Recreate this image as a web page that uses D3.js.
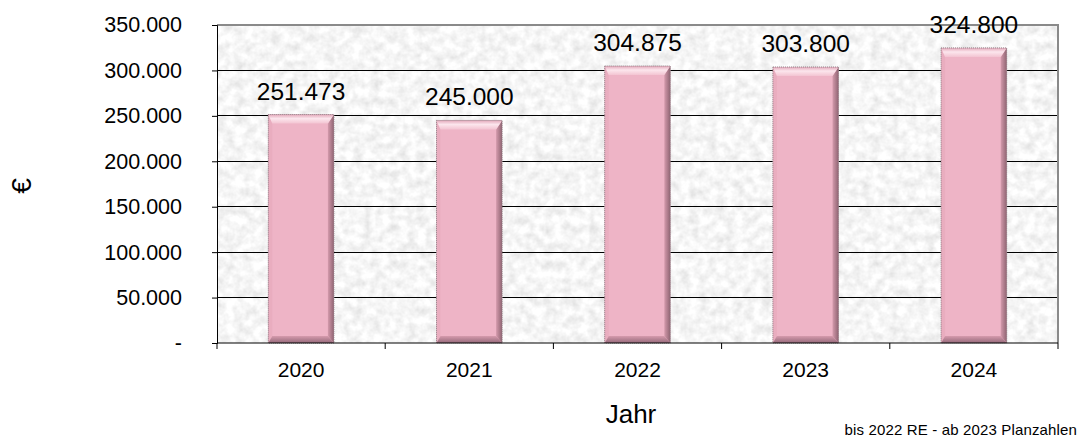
<!DOCTYPE html>
<html>
<head>
<meta charset="utf-8">
<script src="https://cdn.jsdelivr.net/npm/d3@7"></script>
<style>
  html, body { margin: 0; padding: 0; background: #fff; }
  svg { display: block; font-family: Arial, "Liberation Sans", sans-serif; }
</style>
</head>
<body>
<svg id="chart" width="1078" height="437"></svg>
<script>
// Jahreswerte in Euro
const years = ["2020", "2021", "2022", "2023", "2024"];
const amounts = [251473, 245000, 304875, 303800, 324800];
const yTicks = [0, 50000, 100000, 150000, 200000, 250000, 300000, 350000];
const yTitle = "€";
const xTitle = "Jahr";
const note = "bis 2022 RE - ab 2023 Planzahlen";

const W = 1078, H = 437;
const margin = { top: 25, right: 20, bottom: 94, left: 217 };
const plotW = W - margin.left - margin.right;
const plotH = H - margin.top - margin.bottom;

const de = d3.formatLocale({ decimal: ",", thousands: ".", grouping: [3], currency: ["", " €"] });
const fmt = de.format(",.0f");
const tickFmt = v => v === 0 ? "-" : fmt(v);

const svg = d3.select("#chart");
const defs = svg.append("defs");

// fine stone-like grey texture for the plot background
const tex = defs.append("filter").attr("id", "stone")
  .attr("x", 0).attr("y", 0).attr("width", "100%").attr("height", "100%");
tex.append("feTurbulence").attr("type", "fractalNoise")
  .attr("baseFrequency", "0.11").attr("numOctaves", 3).attr("seed", 11).attr("result", "n");
tex.append("feColorMatrix").attr("in", "n").attr("type", "matrix")
  .attr("values", "0.4 0 0 0 0.72  0.4 0 0 0 0.72  0.4 0 0 0 0.72  0 0 0 0 1");

const topGrad = defs.append("linearGradient").attr("id", "bevelTop")
  .attr("x1", 0).attr("y1", 0).attr("x2", 0).attr("y2", 1);
topGrad.append("stop").attr("offset", "0%").attr("stop-color", "#e3a8ba");
topGrad.append("stop").attr("offset", "45%").attr("stop-color", "#fce6ed");
topGrad.append("stop").attr("offset", "100%").attr("stop-color", "#f3c4d2");

const rightGrad = defs.append("linearGradient").attr("id", "bevelRight")
  .attr("x1", 0).attr("y1", 0).attr("x2", 1).attr("y2", 0);
rightGrad.append("stop").attr("offset", "0%").attr("stop-color", "#d49aac");
rightGrad.append("stop").attr("offset", "100%").attr("stop-color", "#8f6472");

const botGrad = defs.append("linearGradient").attr("id", "bevelBot")
  .attr("x1", 0).attr("y1", 0).attr("x2", 0).attr("y2", 1);
botGrad.append("stop").attr("offset", "0%").attr("stop-color", "#d69bad");
botGrad.append("stop").attr("offset", "100%").attr("stop-color", "#95697a");

const g = svg.append("g").attr("transform", `translate(${margin.left},${margin.top})`);

const x = d3.scaleBand().domain(years).range([0, plotW]).paddingInner(0.61).paddingOuter(0.305);
const xb = d3.scaleBand().domain(years).range([0, plotW]);
const y = d3.scaleLinear().domain([0, 350000]).range([plotH, 0]);

// background
g.append("rect").attr("width", plotW).attr("height", plotH).attr("fill", "#e8e8e8");
g.append("rect").attr("width", plotW).attr("height", plotH).attr("filter", "url(#stone)");

// gridlines
g.append("g").selectAll("line").data(yTicks.slice(1, -1)).join("line")
  .attr("x1", 0).attr("x2", plotW)
  .attr("y1", d => y(d)).attr("y2", d => y(d))
  .attr("stroke", "#000").attr("stroke-width", 1).attr("shape-rendering", "crispEdges");

// frame: top and right in grey
g.append("path")
  .attr("d", `M0,${y(350000)}H${plotW}V${plotH}`)
  .attr("fill", "none").attr("stroke", "#8a8a8a").attr("stroke-width", 2);

// bars with bevelled edges
const rows = years.map((yr, i) => ({ yr, v: amounts[i] }));
const bars = g.append("g").selectAll("g").data(rows).join("g");
bars.each(function (d) {
  const s = d3.select(this);
  const x0 = x(d.yr), x1 = x0 + x.bandwidth();
  const y0 = y(d.v), y1 = y(0);
  const bt = 9, bs = 4, br = 6, bb = 7;
  s.append("rect").attr("x", x0).attr("y", y0).attr("width", x1 - x0).attr("height", y1 - y0)
    .attr("fill", "#eeb4c6");
  // left face
  s.append("path").attr("d", `M${x0},${y0}L${x0 + bs},${y0 + bt}L${x0 + bs},${y1 - bb}L${x0},${y1}Z`)
    .attr("fill", "#e9adbf");
  // right face
  s.append("path").attr("d", `M${x1},${y0}L${x1 - br},${y0 + bt}L${x1 - br},${y1 - bb}L${x1},${y1}Z`)
    .attr("fill", "url(#bevelRight)");
  // bottom face
  s.append("path").attr("d", `M${x0},${y1}L${x0 + bs},${y1 - bb}L${x1 - br},${y1 - bb}L${x1},${y1}Z`)
    .attr("fill", "url(#bevelBot)");
  // top face
  s.append("path").attr("d", `M${x0},${y0}L${x1},${y0}L${x1 - br},${y0 + bt}L${x0 + bs},${y0 + bt}Z`)
    .attr("fill", "url(#bevelTop)");
  // dotted outline
  s.append("rect").attr("x", x0).attr("y", y0).attr("width", x1 - x0).attr("height", y1 - y0)
    .attr("fill", "none").attr("stroke", "#8c7c82").attr("stroke-width", 1).attr("stroke-dasharray", "1,1");
});

// value labels
g.append("g").selectAll("text").data(rows).join("text")
  .attr("x", d => x(d.yr) + x.bandwidth() / 2)
  .attr("y", d => y(d.v) - 15)
  .attr("text-anchor", "middle")
  .attr("font-size", 24.5).attr("fill", "#000")
  .text(d => fmt(d.v));

// y axis
const yAxis = g.append("g").call(d3.axisLeft(y).tickValues(yTicks).tickFormat(tickFmt).tickSize(5).tickPadding(30));
yAxis.select(".domain").attr("stroke", "#000");
yAxis.selectAll("text").attr("font-size", 21.5).attr("font-family", "Arial, 'Liberation Sans', sans-serif").attr("fill", "#000");

// x axis with ticks at category boundaries
const xAxisG = g.append("g").attr("transform", `translate(0,${plotH})`);
xAxisG.append("line").attr("x1", 0).attr("x2", plotW).attr("stroke", "#000").attr("stroke-width", 1);
xAxisG.selectAll("line.tk").data(d3.range(years.length + 1)).join("line").attr("class", "tk")
  .attr("x1", i => i * xb.step()).attr("x2", i => i * xb.step())
  .attr("y1", 0).attr("y2", 6).attr("stroke", "#000");
xAxisG.selectAll("text").data(years).join("text")
  .attr("x", d => xb(d) + xb.bandwidth() / 2).attr("y", 34)
  .attr("text-anchor", "middle").attr("font-size", 21).attr("fill", "#000")
  .text(d => d);

// axis titles
svg.append("text").attr("x", 631).attr("y", 423)
  .attr("text-anchor", "middle").attr("font-size", 26).text(xTitle);
svg.append("text").attr("transform", `translate(31,186) rotate(-90)`)
  .attr("text-anchor", "middle").attr("font-size", 28).text(yTitle);

// footnote
svg.append("text").attr("x", 1077).attr("y", 435).attr("text-anchor", "end")
  .attr("font-size", 15).attr("letter-spacing", 0.15).text(note);
</script>
</body>
</html>
